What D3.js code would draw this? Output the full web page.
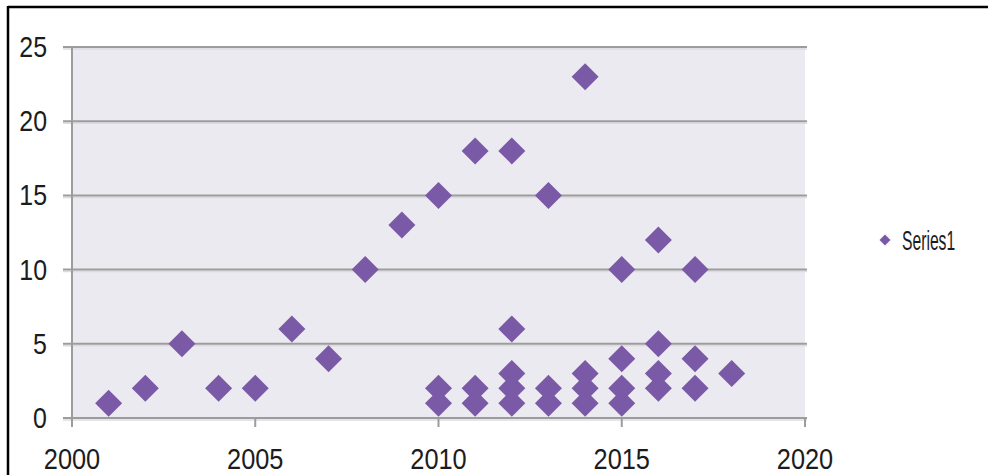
<!DOCTYPE html>
<html>
<head>
<meta charset="utf-8">
<script src="https://cdn.jsdelivr.net/npm/d3@7"></script>
<style>
  html, body { margin: 0; padding: 0; background: #fff; }
  svg { display: block; }
  text { font-family: "Liberation Sans", Arial, sans-serif; fill: #1c1c1c; }
</style>
</head>
<body>
<svg id="chart" width="988" height="475"></svg>
<script>
// Year of each observation and its value (several per year from 2010 on)
const years = [
  2001, 2002, 2003, 2004, 2005, 2006, 2007, 2008, 2009,
  2010, 2010, 2010,
  2011, 2011, 2011,
  2012, 2012, 2012, 2012, 2012,
  2013, 2013, 2013,
  2014, 2014, 2014, 2014,
  2015, 2015, 2015, 2015,
  2016, 2016, 2016, 2016,
  2017, 2017, 2017,
  2018
];
const values = [
  1, 2, 5, 2, 2, 6, 4, 10, 13,
  15, 2, 1,
  18, 2, 1,
  18, 6, 3, 2, 1,
  15, 2, 1,
  23, 3, 2, 1,
  10, 4, 2, 1,
  12, 5, 3, 2,
  10, 4, 2,
  3
];
const xTicks = [2000, 2005, 2010, 2015, 2020];
const yTicks = [0, 5, 10, 15, 20, 25];
const seriesName = "Series1";

const svg = d3.select("#chart");

const plot = { left: 72, right: 805, top: 47, bottom: 418 };
const x = d3.scaleLinear().domain([2000, 2020]).range([plot.left, plot.right]);
const y = d3.scaleLinear().domain([0, 25]).range([plot.bottom, plot.top]);

const gridColor = "#9c9c9c";
const markColor = "#7a5aa6";

// outer frame (top and left edges visible)
svg.append("line").attr("x1", 8).attr("x2", 988).attr("y1", 7).attr("y2", 7)
  .attr("stroke", "#000").attr("stroke-width", 2.5);
svg.append("line").attr("x1", 8).attr("x2", 8).attr("y1", 6).attr("y2", 475)
  .attr("stroke", "#000").attr("stroke-width", 2.5);

// plot background
svg.append("rect")
  .attr("x", plot.left).attr("y", plot.top)
  .attr("width", plot.right - plot.left).attr("height", plot.bottom - plot.top)
  .attr("fill", "#eceaf1");

// horizontal gridlines, each with its left tick
const grid = svg.append("g");
grid.selectAll("line.shade").data(yTicks).join("line")
  .attr("class", "shade")
  .attr("x1", plot.left - 9).attr("x2", plot.right + 2)
  .attr("y1", d => y(d) + 2).attr("y2", d => y(d) + 2)
  .attr("stroke", "#dcdbe0").attr("stroke-width", 1.5);
grid.selectAll("line.g").data(yTicks).join("line")
  .attr("class", "g")
  .attr("x1", plot.left - 9).attr("x2", plot.right + 2)
  .attr("y1", d => y(d)).attr("y2", d => y(d))
  .attr("stroke", gridColor).attr("stroke-width", 2);

// vertical axis line
svg.append("line")
  .attr("x1", plot.left).attr("x2", plot.left)
  .attr("y1", plot.top - 1).attr("y2", plot.bottom)
  .attr("stroke", gridColor).attr("stroke-width", 2);

// x ticks below the baseline
svg.append("g").selectAll("line").data(xTicks).join("line")
  .attr("x1", d => x(d)).attr("x2", d => x(d))
  .attr("y1", plot.bottom).attr("y2", plot.bottom + 9)
  .attr("stroke", gridColor).attr("stroke-width", 2);

// y tick labels
svg.append("g").selectAll("text").data(yTicks).join("text")
  .attr("transform", d => `translate(47,${y(d) + 10}) scale(0.86,1)`)
  .attr("text-anchor", "end")
  .attr("font-size", 29)
  .text(d => d);

// x tick labels
svg.append("g").selectAll("text").data(xTicks).join("text")
  .attr("transform", d => `translate(${x(d)},468.5) scale(0.86,1)`)
  .attr("text-anchor", "middle")
  .attr("font-size", 29.5)
  .text(d => d);

// diamond marker whose size is the half-diagonal squared
const diamond = {
  draw(ctx, size) {
    const r = Math.sqrt(size);
    ctx.moveTo(0, -r);
    ctx.lineTo(r, 0);
    ctx.lineTo(0, r);
    ctx.lineTo(-r, 0);
    ctx.closePath();
  }
};

const points = years.map((yr, i) => ({ year: yr, value: values[i] }));

svg.append("g").selectAll("path").data(points).join("path")
  .attr("transform", d => `translate(${x(d.year)},${y(d.value)})`)
  .attr("d", d3.symbol().type(diamond).size(13.5 * 13.5))
  .attr("fill", markColor);

// legend
const legend = svg.append("g").attr("transform", "translate(885,240)");
legend.append("path")
  .attr("d", d3.symbol().type(diamond).size(5.5 * 5.5))
  .attr("fill", markColor);
legend.append("text")
  .attr("transform", "translate(17,10) scale(0.56,1)")
  .attr("font-size", 28)
  .text(seriesName);
</script>
</body>
</html>
